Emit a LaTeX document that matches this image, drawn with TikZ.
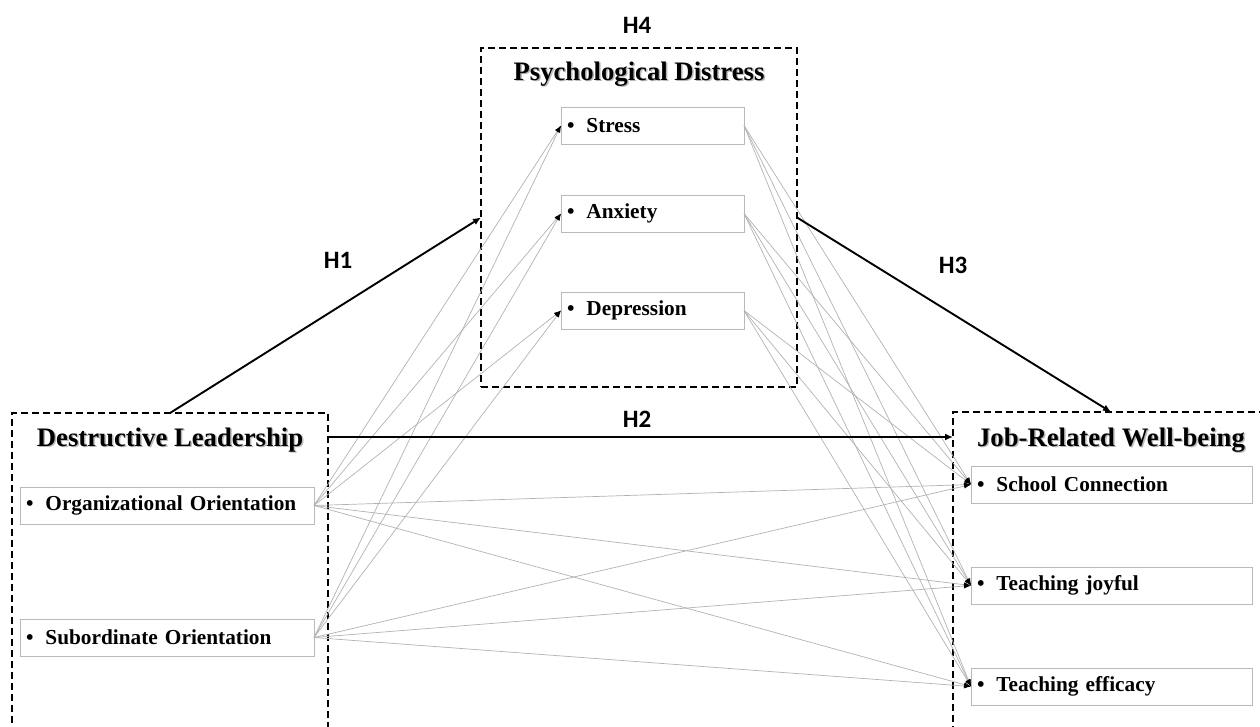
\documentclass[tikz,border=0pt]{standalone}
\usepackage{fontspec}
\setmainfont{Liberation Serif}
\newfontfamily\hfont{Carlito}
\usetikzlibrary{arrows.meta,positioning}
\tikzset{
  dbox/.style={draw=black, line width=2pt, dash pattern=on 7pt off 4pt, inner sep=0pt, outer sep=0pt, anchor=north west},
  ibox/.style={draw=gray!55, line width=0.8pt, inner xsep=6pt, inner ysep=0pt, minimum height=37pt, anchor=north west, align=left, font=\fontsize{21.3}{24}\selectfont\bfseries, outer sep=0pt},
  ttl/.style={font=\fontsize{26.7}{30}\selectfont\bfseries},
  shd/.style={ttl, text=gray!55},
  hlab/.style={font=\hfont\fontsize{25}{28}\selectfont\bfseries},
  thin/.style={draw=gray!60, line width=0.7pt, -{Latex[length=7pt,width=5pt,color=black]}},
  thick/.style={draw=black, line width=1.9pt, -{Latex[length=8pt,width=7pt]}}
}
\newcommand{\itm}[1]{\textbullet\hspace{12pt}#1}
\begin{document}
\begin{tikzpicture}[x=1pt,y=-1pt]
\useasboundingbox (0,0) rectangle (1260,726);
% dashed containers
\node[dbox, minimum width=316pt, minimum height=339pt] (pd) at (481,48) {};
\node[dbox, minimum width=316pt, minimum height=330pt] (dl) at (12,413) {};
\node[dbox, minimum width=316pt, minimum height=330pt] (jw) at (953,412) {};
% titles with shadow
\node[shd] (pdts) at (640.5,75.5) {Psychological Distress};
\node[ttl] (pdt) at (639,74) {Psychological Distress};
\node[shd] (dlts) at (171.5,441.5) {Destructive Leadership};
\node[ttl] (dlt) at (170,440) {Destructive Leadership};
\node[shd] (jwts) at (1112.5,441.5) {Job-Related Well-being};
\node[ttl] (jwt) at (1111,440) {Job-Related Well-being};
% item boxes
\node[ibox, text width=171pt] (st) at (561,107) {\itm{Stress}};
\node[ibox, text width=171pt] (an) at (561,195) {\itm{Anxiety}};
\node[ibox, text width=171pt] (de) at (561,292) {\itm{Depression}};
\node[ibox, text width=282pt] (oo) at (20,487) {\itm{Organizational Orientation}};
\node[ibox, text width=282pt] (so) at (20,619) {\itm{Subordinate Orientation}};
\node[ibox, text width=269pt] (sc) at (971,466) {\itm{School Connection}};
\node[ibox, text width=269pt] (tj) at (971,567) {\itm{Teaching joyful}};
\node[ibox, text width=269pt] (te) at (971,668) {\itm{Teaching efficacy}};
% thin connectors
\foreach \s in {oo,so}{
  \foreach \t in {st,an,de,sc,tj,te}{
    \draw[thin] (\s.east) -- (\t.west);
  }
}
\foreach \s in {st,an,de}{
  \foreach \t in {sc,tj,te}{
    \draw[thin] (\s.east) -- (\t.west);
  }
}
% hypothesis arrows
\draw[thick] (dl.north) -- (pd.west);
\draw[thick] (pd.east) -- (jw.north);
\coordinate (h2y) at (0,437);
\draw[thick] (dl.east |- h2y) -- (jw.west |- h2y);
% labels
\node[hlab] (h4) at (637,25) {H4};
\node[hlab] (h1) at (338,260) {H1};
\node[hlab] (h3) at (953,265) {H3};
\node[hlab] (h2) at (637,419) {H2};
\end{tikzpicture}
\end{document}
